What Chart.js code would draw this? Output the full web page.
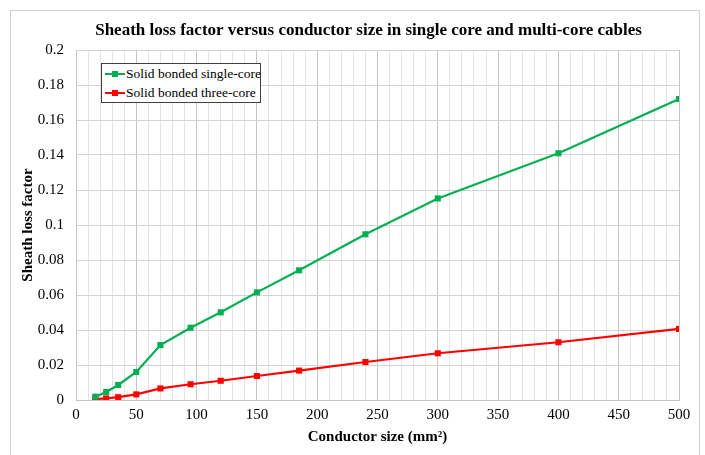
<!DOCTYPE html>
<html>
<head>
<meta charset="utf-8">
<script src="https://cdn.jsdelivr.net/npm/chart.js@4.4.1/dist/chart.umd.min.js"></script>
<style>
  html,body{margin:0;padding:0;background:#fff;}
  #wrap{position:relative;width:705px;height:455px;overflow:hidden;}
  #frame{position:absolute;left:10px;top:10px;width:688px;height:470px;border:1px solid #d0d0d0;pointer-events:none;}
  #legend{position:absolute;left:101px;top:63px;width:158px;height:38px;border:1px solid #404040;background:#fff;
    font-family:"Liberation Serif","Times New Roman","DejaVu Serif",serif;font-size:13.5px;color:#000;}
  .lg-row{position:absolute;left:2px;height:18px;line-height:18px;white-space:nowrap;}
  .lg-mark{position:absolute;left:1px;top:8px;width:20px;height:2px;}
  .lg-mark i{position:absolute;left:7px;top:-2px;width:6px;height:6px;}
  .lg-text{position:absolute;left:22px;top:0;}
</style>
</head>
<body>
<div id="wrap">
  <canvas id="c" width="705" height="455"></canvas>
  <div id="frame"></div>
  <div id="legend"></div>
</div>
<script>
// chart data
const TITLE = 'Sheath loss factor versus conductor size in single core and multi-core cables';
const X_TITLE = 'Conductor size (mm²)';
const Y_TITLE = 'Sheath loss factor';
const SIZES = [16,25,35,50,70,95,120,150,185,240,300,400,500];
const SINGLE_CORE = [0.0019,0.0046,0.0086,0.016,0.0314,0.0413,0.0501,0.0615,0.0741,0.0947,0.1152,0.141,0.172];
const THREE_CORE = [0.0005,0.0009,0.0016,0.0032,0.0066,0.009,0.011,0.0137,0.0168,0.0217,0.0267,0.033,0.0406];
const SERIES_NAMES = ['Solid bonded single-core','Solid bonded three-core'];
const SERIES_COLORS = ['#00B050','#FF0000'];
const X_MIN = 0, X_MAX = 500, X_MINOR = 10, X_MAJOR = 50;
const Y_MIN = 0, Y_MAX = 0.2, Y_STEP = 0.02;

const SERIF = "'Liberation Serif', 'Times New Roman', 'DejaVu Serif', serif";
const toPts = ys => SIZES.map((x,i) => ({x, y: ys[i]}));

const series = [SINGLE_CORE, THREE_CORE];
const datasets = series.map((ys,i) => ({
  label: SERIES_NAMES[i],
  data: toPts(ys),
  borderColor: SERIES_COLORS[i],
  backgroundColor: SERIES_COLORS[i],
  borderWidth: 2.2,
  pointStyle: 'rect',
  pointRadius: 4.3,
  pointBorderWidth: 0,
  tension: 0
}));

// html legend inside plot area
const lg = document.getElementById('legend');
lg.innerHTML = SERIES_NAMES.map((n,i) => `
  <div class="lg-row" style="top:${1 + i*19}px">
    <div class="lg-mark" style="background:${SERIES_COLORS[i]}"><i style="background:${SERIES_COLORS[i]}"></i></div>
    <div class="lg-text">${n}</div>
  </div>`).join('');

// title drawn a bit left of the plot centre, like the original
const titlePlugin = {
  id: 'titleAt',
  afterDraw(chart){
    const {ctx, chartArea} = chart;
    ctx.save();
    ctx.font = `bold 17px ${SERIF}`;
    ctx.fillStyle = '#000';
    ctx.textAlign = 'center';
    ctx.textBaseline = 'middle';
    ctx.fillText(TITLE, (chartArea.left + chartArea.right)/2 - 9, 31);
    ctx.restore();
  }
};

function draw(){
  new Chart(document.getElementById('c').getContext('2d'), {
    type: 'line',
    data: { datasets },
    plugins: [titlePlugin],
    options: {
      responsive: false,
      animation: false,
      layout: { padding: { left: 12, right: 26, top: 50, bottom: 0 } },
      plugins: {
        legend: { display: false },
        tooltip: { enabled: false },
        title: { display: false }
      },
      scales: {
        x: {
          type: 'linear', min: X_MIN, max: X_MAX,
          afterFit: s => { s.height = 55; },
          ticks: {
            stepSize: X_MINOR, autoSkip: false, maxRotation: 0, padding: 6,
            color: '#000', font: { family: SERIF, size: 15 },
            callback: v => (v % X_MAJOR === 0 ? String(v) : '')
          },
          grid: {
            drawTicks: false,
            color: c => (c.tick && c.tick.value % X_MAJOR === 0 ? '#c4c4c4' : '#e4e4e4'),
            lineWidth: 1
          },
          border: { color: '#c4c4c4' },
          title: {
            display: true, text: X_TITLE, color: '#000',
            font: { family: SERIF, size: 15, weight: 'bold', lineHeight: 1.2 },
            padding: { top: 0, bottom: 9 }
          }
        },
        y: {
          min: Y_MIN, max: Y_MAX,
          afterFit: s => { s.width = 64; },
          ticks: {
            stepSize: Y_STEP, padding: 12, color: '#000',
            font: { family: SERIF, size: 15 },
            callback: v => String(+v.toFixed(2))
          },
          grid: { drawTicks: false, color: '#d4d4d4', lineWidth: 1 },
          border: { color: '#c4c4c4' },
          title: {
            display: true, text: Y_TITLE, color: '#000',
            font: { family: SERIF, size: 15, weight: 'bold', lineHeight: 1.2 },
            padding: { top: 7, bottom: 0 }
          }
        }
      }
    }
  });
}

// make sure the serif faces are resolved before the canvas text is drawn
Promise.all([
  document.fonts.load(`15px ${SERIF}`),
  document.fonts.load(`bold 15px ${SERIF}`)
]).catch(()=>null).then(draw);
</script>
</body>
</html>
